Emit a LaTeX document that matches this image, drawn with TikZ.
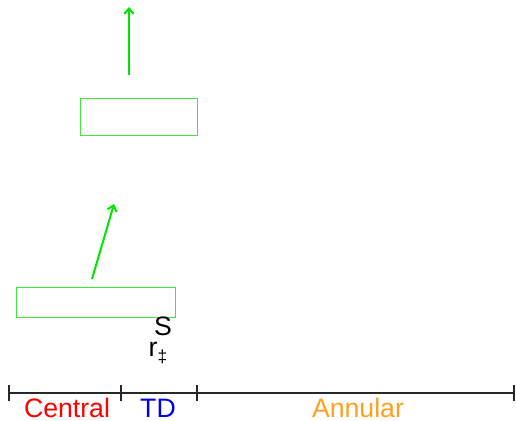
\documentclass[tikz,border=0pt]{standalone}
\usepackage{fontspec}
\setmainfont{Liberation Sans}
\usetikzlibrary{arrows.meta, positioning}
\definecolor{boxgreen}{RGB}{60, 235, 60}
\definecolor{arrowgreen}{RGB}{0, 230, 0}
\definecolor{regionred}{RGB}{255, 0, 0}
\definecolor{regionblue}{RGB}{0, 0, 235}
\definecolor{regionorange}{RGB}{255, 160, 30}
\definecolor{axisgray}{RGB}{40, 40, 40}

\begin{document}
\begin{tikzpicture}[
  x=0.75pt, y=-0.75pt,
  zone/.style={
    rectangle, draw=boxgreen, line width=0.8pt,
    inner sep=0pt, anchor=north west
  },
  flow/.style={-{Straight Barb[length=4pt, width=7pt]}, line width=1.5pt, color=arrowgreen},
  tick/.style={line width=1.3pt, color=axisgray},
  label/.style={font=\fontsize{20}{20}\selectfont, inner sep=0pt}
]
  \useasboundingbox (0,0) rectangle (516,420);

  % boxes
  \node[zone, minimum width=117*0.75pt, minimum height=37*0.75pt] (upper) at (80,98) {};
  \node[zone, minimum width=159*0.75pt, minimum height=30*0.75pt] (lower) at (16,287) {};

  % arrows
  \coordinate (lowtail) at (92,279);
  \coordinate (lowhead) at (114,204);
  \coordinate (uptail) at (129,75);
  \coordinate (uphead) at (129,7);
  \draw[flow] (lowtail) -- (lowhead);
  \draw[flow] (uptail) -- (uphead);

  % labels near the lower box
  \node[label] (s) at (163,326) {S};
  \node[label] (r) at (158,353) {r{\fontsize{13}{13}\selectfont\raisebox{-4pt}{‡}}};

  % radial axis
  \coordinate (a0) at (9,393);
  \coordinate (a1) at (121,393);
  \coordinate (a2) at (197,393);
  \coordinate (a3) at (514,393);
  \draw[tick] (a0) -- (a3);
  \foreach \p in {a0, a1, a2, a3}
    \draw[tick] ([yshift=6pt]\p) -- ([yshift=-6pt]\p);

  \node[label, text=regionred] (central) at (67,408) {Central};
  \node[label, text=regionblue] (td) at (158,408) {TD};
  \node[label, text=regionorange] (annular) at (358,408) {Annular};
\end{tikzpicture}
\end{document}
